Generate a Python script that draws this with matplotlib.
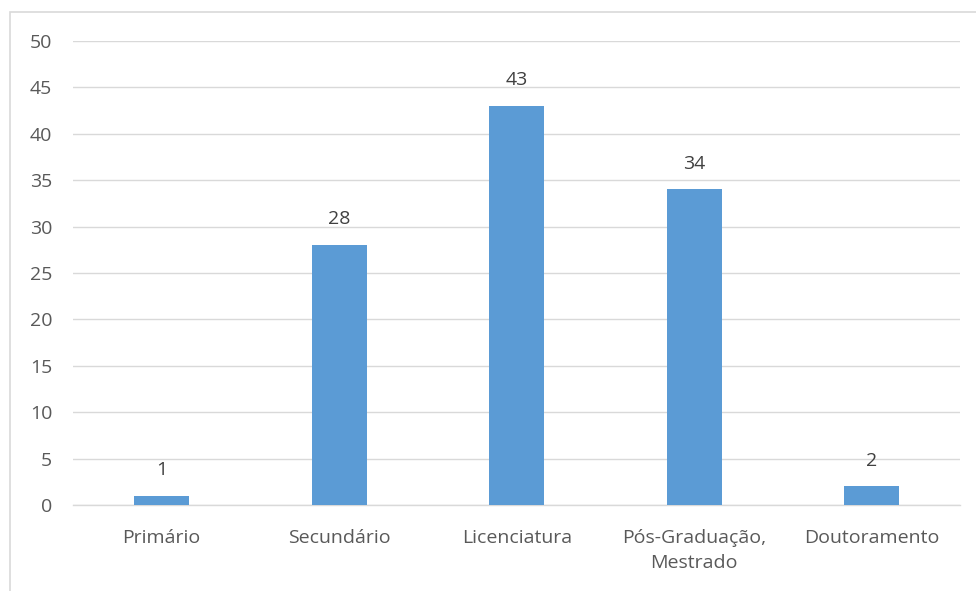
import matplotlib
matplotlib.use('Agg')
import matplotlib.pyplot as plt
from matplotlib.patches import Rectangle

# Education level counts
categories = ['Primário', 'Secundário', 'Licenciatura', 'Pós-Graduação,\nMestrado', 'Doutoramento']
values = [1, 28, 43, 34, 2]

bar_color = '#5B9BD5'
text_color = '#595959'
grid_color = '#D9D9D9'

plt.rcParams['font.family'] = ['Open Sans', 'DejaVu Sans']

fig = plt.figure(figsize=(9.76, 5.91), dpi=100)
ax = fig.add_axes([0.0748, 0.1455, 0.9092, 0.7851])

x = range(len(categories))
bars = ax.bar(x, values, width=0.31, color=bar_color, zorder=3)

for xi, v in zip(x, values):
    ax.text(xi, v + 1.8, str(v), ha='center', va='bottom', fontsize=14, color='#404040')

ax.set_xlim(-0.5, len(categories) - 0.5)
ax.set_ylim(0, 50)
ax.set_yticks(range(0, 51, 5))
ax.set_xticks(list(x))
ax.set_xticklabels(categories, fontsize=14, color=text_color, linespacing=1.55)
ax.tick_params(axis='y', labelsize=14, labelcolor=text_color, length=0, pad=15)
ax.tick_params(axis='x', length=0, pad=17)

ax.grid(axis='y', color=grid_color, linewidth=1, zorder=0)
for side in ['top', 'right', 'left']:
    ax.spines[side].set_visible(False)
ax.spines['bottom'].set_color(grid_color)
ax.spines['bottom'].set_linewidth(1)

# outer chart border (partly cropped in the source image)
fig.patches.append(Rectangle((10 / 976, -0.05), 1.0, 1 - 12 / 591 + 0.05,
                             transform=fig.transFigure, fill=False,
                             edgecolor='#D9D9D9', linewidth=1.2))

plt.savefig('out.png', dpi=100)
plt.close()
